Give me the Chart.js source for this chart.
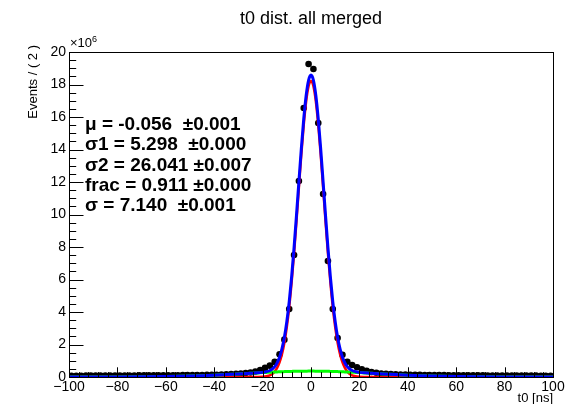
<!DOCTYPE html>
<html><head><meta charset="utf-8">
<script src="https://cdn.jsdelivr.net/npm/chart.js@4/dist/chart.umd.min.js"></script>
<style>html,body{margin:0;padding:0;background:#fff;}canvas{display:block;}</style>
</head><body>
<canvas id="c" width="567" height="404"></canvas>
<script>
// ---------- texts ----------
const chartTitle = 't0 dist. all merged';
const xTitle = 't0 [ns]';
const yTitle = 'Events / ( 2 )';
const yExponent = '6';
const statLines = [
  'μ = -0.056  ±0.001',
  'σ1 = 5.298  ±0.000',
  'σ2 = 26.041 ±0.007',
  'frac = 0.911 ±0.000',
  'σ = 7.140  ±0.001'
];
// ---------- ticks ----------
const xTickValues = [-100,-80,-60,-40,-20,0,20,40,60,80,100];
const xTickLabels = ['\u2212100','\u221280','\u221260','\u221240','\u221220','0','20','40','60','80','100'];
const yTickValues = [0,2,4,6,8,10,12,14,16,18,20];
const yTickLabels = ['0','2','4','6','8','10','12','14','16','18','20'];
// ---------- data (events, units of 1e6) ----------
const binCenters = [-99,-97,-95,-93,-91,-89,-87,-85,-83,-81,-79,-77,-75,-73,-71,-69,-67,-65,-63,-61,
  -59,-57,-55,-53,-51,-49,-47,-45,-43,-41,-39,-37,-35,-33,-31,-29,-27,-25,-23,-21,
  -19,-17,-15,-13,-11,-9,-7,-5,-3,-1,1,3,5,7,9,11,13,15,17,19,
  21,23,25,27,29,31,33,35,37,39,41,43,45,47,49,51,53,55,57,59,
  61,63,65,67,69,71,73,75,77,79,81,83,85,87,89,91,93,95,97,99];
const eventsM = [0.08,0.08,0.08,0.085,0.085,0.085,0.085,0.09,0.09,0.09,0.09,0.095,0.095,0.095,0.1,0.1,0.1,0.1,0.105,0.105,
  0.105,0.11,0.11,0.115,0.115,0.12,0.12,0.125,0.13,0.135,0.14,0.15,0.16,0.175,0.19,0.21,0.24,0.28,0.34,0.43,
  0.56,0.70,0.93,1.40,2.30,4.18,7.51,12.06,16.55,19.26,18.95,15.63,11.26,7.14,4.18,2.40,1.37,0.94,0.74,0.60,
  0.47,0.38,0.31,0.26,0.22,0.20,0.18,0.165,0.155,0.145,0.14,0.135,0.13,0.125,0.12,0.12,0.115,0.115,0.11,0.11,
  0.105,0.105,0.1,0.1,0.1,0.1,0.095,0.095,0.095,0.09,0.09,0.09,0.09,0.085,0.085,0.085,0.085,0.08,0.08,0.08];
// ---------- fit curves (units of 1e6) ----------
const curveX = [-100,-90,-80,-70,-60,-55,-50,-45,-40,-35,-30,-28,-26,-24,-22,
  -20,-19,-18,-17,-16,-15,-14,-13,-12,-11,-10,-9,-8,-7,-6,-5,-4,-3,-2,-1,0,
  1,2,3,4,5,6,7,8,9,10,11,12,13,14,15,16,17,18,19,20,
  22,24,26,28,30,35,40,45,50,55,60,70,80,90,100];
const totalFit = [0.0002,0.001,0.003,0.010,0.025,0.039,0.057,0.081,0.111,0.147,0.186,0.203,0.220,0.237,0.256,
  0.285,0.306,0.342,0.399,0.49,0.637,0.873,1.22,1.726,2.441,3.406,4.641,6.175,7.959,9.94,12.025,14.058,15.88,17.331,18.262,18.582,
  18.262,17.331,15.88,14.058,12.025,9.94,7.959,6.175,4.641,3.406,2.441,1.726,1.22,0.873,0.637,0.49,0.399,0.342,0.306,0.285,
  0.256,0.237,0.220,0.203,0.186,0.147,0.111,0.081,0.057,0.039,0.025,0.010,0.003,0.001,0.0002];
const narrowGauss = [0,0,0,0,0,0,0,0,0,0,0,0,0,0,0.003,
  0.015,0.029,0.057,0.106,0.19,0.33,0.56,0.90,1.40,2.11,3.07,4.30,5.83,7.61,9.59,11.67,13.70,15.52,16.97,17.90,18.22,
  17.90,16.97,15.52,13.70,11.67,9.59,7.61,5.83,4.30,3.07,2.11,1.40,0.90,0.56,0.33,0.19,0.106,0.057,0.029,0.015,
  0.003,0,0,0,0,0,0,0,0,0,0,0,0,0,0];
const wideGauss = [0.0002,0.001,0.003,0.010,0.025,0.039,0.057,0.081,0.111,0.147,0.186,0.203,0.220,0.237,0.253,
  0.270,0.277,0.285,0.293,0.300,0.307,0.313,0.320,0.326,0.331,0.336,0.341,0.345,0.349,0.3525,0.355,0.358,0.360,0.361,0.362,0.362,
  0.362,0.361,0.360,0.358,0.355,0.3525,0.349,0.345,0.341,0.336,0.331,0.326,0.320,0.313,0.307,0.300,0.293,0.285,0.277,0.270,
  0.253,0.237,0.220,0.203,0.186,0.147,0.111,0.081,0.057,0.039,0.025,0.010,0.003,0.001,0.0002];

const FONT = '"Liberation Sans", Arial, Helvetica, sans-serif';
const pts = (xs, ys) => xs.map((x, i) => ({x: x, y: ys[i]}));

const rootAxes = {
  id: 'rootAxes',
  beforeDraw(chart) {
    const c = chart.ctx;
    c.save(); c.fillStyle = '#fff'; c.fillRect(0, 0, chart.width, chart.height); c.restore();
  },
  afterDraw(chart) {
    const c = chart.ctx, a = chart.chartArea;
    const xs = chart.scales.x, ys = chart.scales.y;
    c.save();
    c.strokeStyle = '#000'; c.lineWidth = 1;
    // frame
    c.strokeRect(Math.round(a.left) + 0.5, Math.round(a.top) + 0.5, Math.round(a.right - a.left), Math.round(a.bottom - a.top));
    c.beginPath();
    // y ticks
    const yMajorLen = 14.5, yMinorLen = 7.2;
    for (let v = ys.min; v <= ys.max + 1e-9; v += 0.5) {
      const py = Math.round(ys.getPixelForValue(v)) + 0.5;
      const major = Math.abs(v / 2 - Math.round(v / 2)) < 1e-6;
      c.moveTo(a.left, py); c.lineTo(a.left + (major ? yMajorLen : yMinorLen), py);
    }
    // x ticks
    const xMajorLen = 9.7, xMinorLen = 4.9;
    for (let v = xs.min; v <= xs.max + 1e-9; v += 4) {
      const px = Math.round(xs.getPixelForValue(v)) + 0.5;
      const major = Math.abs(v / 20 - Math.round(v / 20)) < 1e-6;
      c.moveTo(px, a.bottom); c.lineTo(px, a.bottom - (major ? xMajorLen : xMinorLen));
    }
    c.stroke();
    // tick labels
    c.fillStyle = '#000';
    c.font = '14px ' + FONT;
    c.textAlign = 'right'; c.textBaseline = 'middle';
    yTickValues.forEach((v, i) => c.fillText(yTickLabels[i], a.left - 3, ys.getPixelForValue(v)));
    c.textAlign = 'center'; c.textBaseline = 'alphabetic';
    xTickValues.forEach((v, i) => c.fillText(xTickLabels[i], xs.getPixelForValue(v), a.bottom + 14));
    // exponent
    c.textAlign = 'left';
    c.font = '13px ' + FONT;
    c.fillText('\u00d710', a.left + 1, 47);
    const w = c.measureText('\u00d710').width;
    c.font = '9px ' + FONT;
    c.fillText(yExponent, a.left + 1 + w, 42);
    // axis titles
    c.font = '13px ' + FONT;
    c.textAlign = 'right';
    c.fillText(xTitle, a.right, 402);
    c.save();
    c.translate(37, a.top - 7);
    c.rotate(-Math.PI / 2);
    c.textAlign = 'right';
    c.fillText(yTitle, 0, 0);
    c.restore();
    // title
    c.font = '18px ' + FONT;
    c.textAlign = 'center';
    c.fillText(chartTitle, 311, 24);
    // stats
    c.font = 'bold 19px ' + FONT;
    c.textAlign = 'left';
    statLines.forEach((t, i) => c.fillText(t, 85, 130 + i * 20.3));
    c.restore();
  }
};

new Chart(document.getElementById('c'), {
  type: 'scatter',
  data: {
    datasets: [
      {label: 'total', data: pts(curveX, totalFit), showLine: true, borderColor: '#0000ff', borderWidth: 3, pointRadius: 0, cubicInterpolationMode: 'monotone', order: 0},
      {label: 'wide', data: pts(curveX, wideGauss), showLine: true, borderColor: '#00ff00', borderWidth: 3, pointRadius: 0, cubicInterpolationMode: 'monotone', order: 1},
      {label: 'narrow', data: pts(curveX, narrowGauss), showLine: true, borderColor: '#ff0000', borderWidth: 2.5, pointRadius: 0, cubicInterpolationMode: 'monotone', order: 2},
      {label: 'data', data: pts(binCenters, eventsM), showLine: false, pointRadius: 3.3, pointBackgroundColor: '#000', pointBorderWidth: 0, pointBorderColor: '#000', order: 3}
    ]
  },
  options: {
    responsive: false, animation: false, devicePixelRatio: 1,
    layout: {padding: {left: 69, right: 14, top: 52, bottom: 27}},
    plugins: {legend: {display: false}, tooltip: {enabled: false}, title: {display: false}},
    scales: {
      x: {type: 'linear', min: -100, max: 100, display: false},
      y: {type: 'linear', min: 0, max: 20, display: false}
    }
  },
  plugins: [rootAxes]
});
</script>
</body></html>
